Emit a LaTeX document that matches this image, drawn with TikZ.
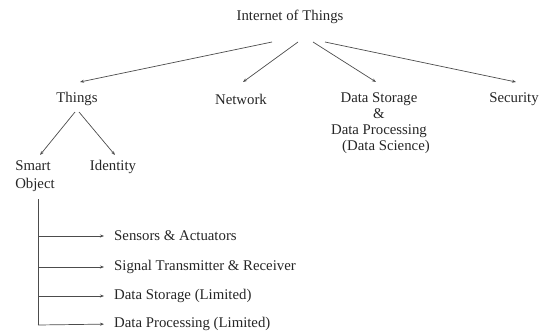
\documentclass[tikz,border=0pt]{standalone}
\usepackage{fontspec}
\setmainfont{Liberation Serif}
\usetikzlibrary{arrows.meta}
\begin{document}
\begin{tikzpicture}[x=1pt,y=-1pt,
  lbl/.style={inner sep=0pt,font=\fontsize{14.8}{16}\selectfont,text=black!85},
  conn/.style={draw=black!70,line width=0.7pt,-{Stealth[length=4pt,width=3pt]}},
  plain/.style={draw=black!70,line width=0.7pt}]
\useasboundingbox (0,0) rectangle (555,335);
\node[lbl] (iot) at (290,17) {Internet of Things};
\node[lbl] (things) at (77,99) {Things};
\node[lbl] (net) at (241,99) {Network};
\node[lbl,align=center] (ds) at (379,123) {Data Storage\\\&\\Data Processing\\\hspace*{14pt}(Data Science)};
\node[lbl] (sec) at (514,99) {Security};
\node[lbl,align=left] (so) at (35,176) {Smart\\[2pt]Object};
\node[lbl] (id) at (113,167) {Identity};
\node[lbl,anchor=west] (s1) at (114,236) {Sensors \& Actuators};
\node[lbl,anchor=west] (s2) at (114,267) {Signal Transmitter \& Receiver};
\node[lbl,anchor=west] (s3) at (114,296) {Data Storage (Limited)};
\node[lbl,anchor=west] (s4) at (114,324) {Data Processing (Limited)};
\coordinate (a1) at (272,42); \coordinate (a2) at (298,42);
\coordinate (a3) at (313,42); \coordinate (a4) at (325,42);
\draw[conn] (a1) -- (80,82);
\draw[conn] (a2) -- (243,82);
\draw[conn] (a3) -- (376,82);
\draw[conn] (a4) -- (516,82);
\coordinate (t1) at (75,112); \coordinate (t2) at (79,112);
\draw[conn] (t1) -- (40,155);
\draw[conn] (t2) -- (115,155);
\coordinate (v0) at (38,199);
\draw[plain] (v0) -- (38,325);
\draw[conn,shorten >=10pt] (38,236) -- (s1.west);
\draw[conn,shorten >=10pt] (38,267) -- (s2.west);
\draw[conn,shorten >=10pt] (38,296) -- (s3.west);
\draw[conn,shorten >=10pt] (38,325) -- (s4.west);
\end{tikzpicture}
\end{document}
